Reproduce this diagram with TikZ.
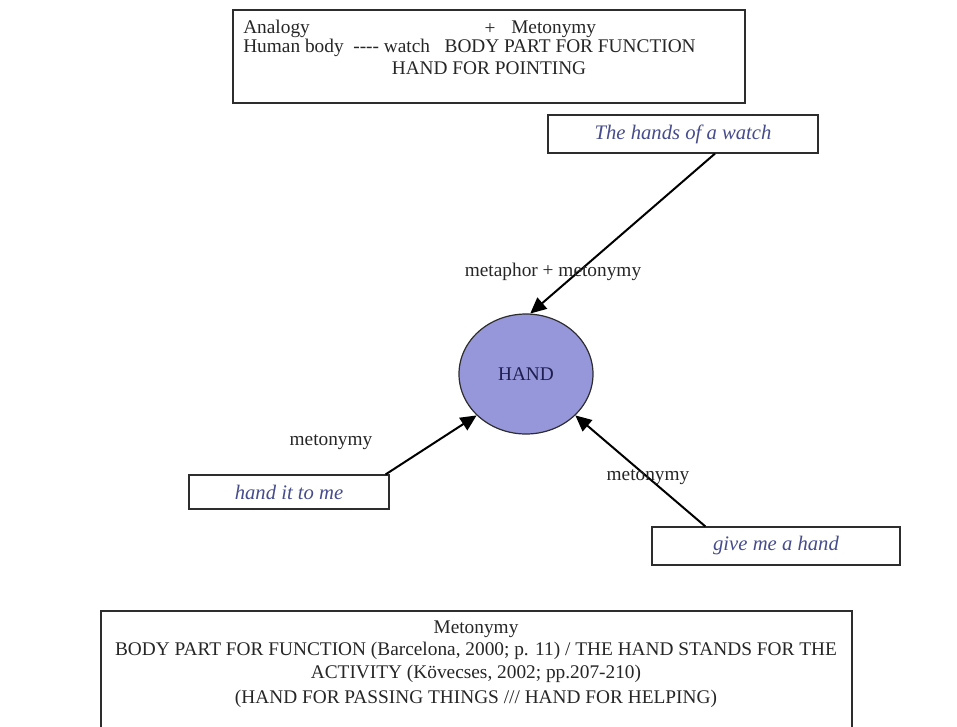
\documentclass[tikz,border=0pt]{standalone}
\usepackage{fontspec}
\setmainfont{Liberation Serif}
\usetikzlibrary{arrows.meta,shapes.geometric}
\definecolor{itblue}{RGB}{70,76,140}
\definecolor{lav}{RGB}{150,150,218}
\definecolor{navy}{RGB}{30,30,80}
\definecolor{edge}{RGB}{45,45,45}
\begin{document}
\begin{tikzpicture}[x=0.75pt,y=-0.75pt,
  txt/.style={inner sep=0pt,font=\fontsize{14.5}{16}\selectfont,text=black!85},
  ex/.style={draw=edge,line width=0.9pt,rectangle,inner sep=0pt,
    font=\fontsize{15.5}{17}\selectfont\itshape,text=itblue},
  conn/.style={line width=1.5pt,-{Triangle[length=12pt,width=11pt]}},
  lbl/.style={inner sep=0pt,font=\fontsize{14.5}{16}\selectfont,text=black!85}]
\useasboundingbox (0,0) rectangle (957,726);
% top box
\node[draw=edge,line width=0.9pt,rectangle,minimum width=384pt,minimum height=69.75pt,inner sep=0pt] (top) at (489,56.5) {};
\node[txt,anchor=west] (analogy) at (243,29) {Analogy};
\node[txt] (plus) at (490,29) {+};
\node[txt,anchor=west] (meto1) at (511,29) {Metonymy};
\node[txt,anchor=west] (human) at (243,48) {Human body\ \ -{}-{}-{}- watch\ \ \ BODY PART FOR FUNCTION};
\node[txt] (point) at (489,68) {HAND FOR POINTING};
% example boxes
\node[ex,minimum width=202.5pt,minimum height=28.5pt] (watch) at (683,134) {The hands of a watch};
\node[ex,minimum width=150pt,minimum height=25.5pt] (left) at (289,492) {hand it to me};
\node[ex,minimum width=186pt,minimum height=28.5pt] (give) at (776,546) {give me a hand};
% HAND
\node[ellipse,draw=edge,line width=0.9pt,fill=lav,minimum width=100.5pt,minimum height=90pt,inner sep=0pt,
  font=\fontsize{14.5}{16}\selectfont,text=navy] (hand) at (526,374) {HAND};
% connectors
\draw[conn] ([xshift=24pt]watch.south) -- (hand.86);
\draw[conn] ([xshift=-3pt]left.north east) -- (hand.220);
\draw[conn] ([xshift=-53pt]give.north) -- (hand.320);
% labels
\node[lbl] (l1) at (553,272) {metaphor + metonymy};
\node[lbl] (l2) at (331,442) {metonymy};
\node[lbl] (l3) at (648,477) {metonymy};
% bottom box
\draw[draw=edge,line width=0.9pt] (101,730) -- (101,611) -- (852,611) -- (852,730);
\node[inner sep=0pt,align=center,font=\fontsize{14.5}{17}\selectfont,text=black!85] (bottom) at (476,664)
 {Metonymy\\BODY PART FOR FUNCTION (Barcelona, 2000; p. 11) / THE HAND STANDS FOR THE\\ACTIVITY (Kövecses, 2002; pp.207-210)\\[1.5pt](HAND FOR PASSING THINGS /// HAND FOR HELPING)};
\end{tikzpicture}
\end{document}
